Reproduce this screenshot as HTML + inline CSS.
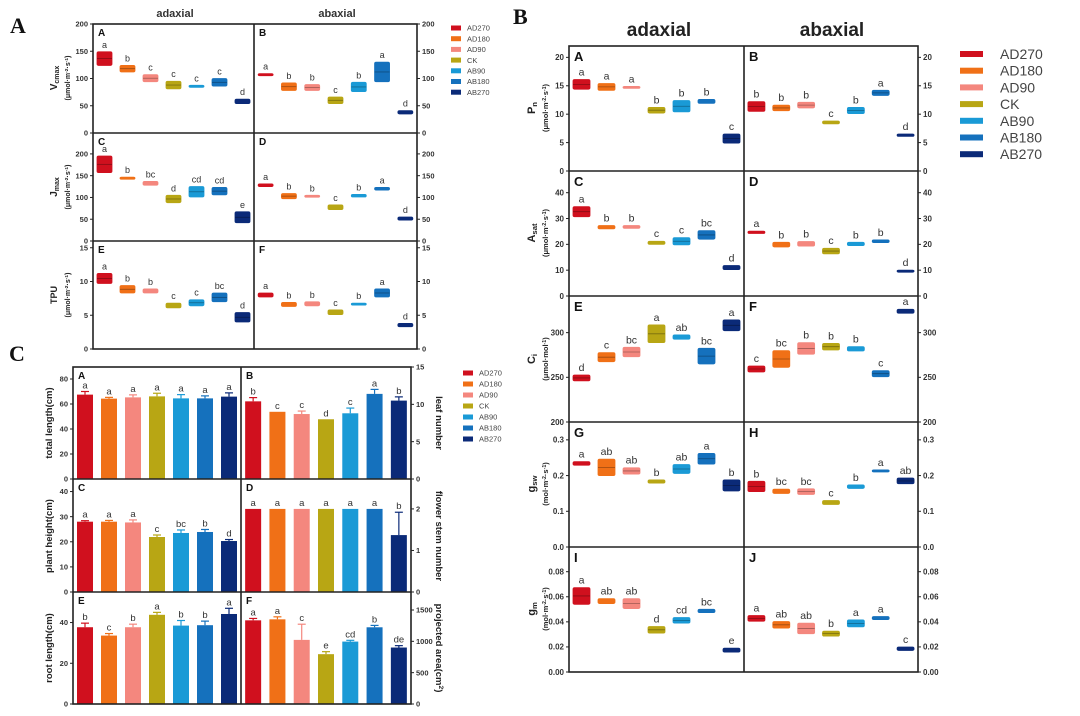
<!DOCTYPE html>
<html><head><meta charset="utf-8"><style>
html,body{margin:0;padding:0;background:#fff;}
svg{display:block;font-family:"Liberation Sans",Arial,sans-serif;}
</style></head><body>
<svg id="fig" width="1080" height="716" viewBox="0 0 1080 716" xmlns="http://www.w3.org/2000/svg"></svg>
<script>
const cats=['AD270','AD180','AD90','CK','AB90','AB180','AB270'];
const colors=['#d0101e','#f07017','#f4877e','#b8a614','#1a9ad6','#1571bd','#0b2a78'];
// Figure A
const vcmaxAdLo=[124,112,94,81,86,86,54], vcmaxAdHi=[149,124,107,95,87.5,100,62], vcmaxAdLet=['a','b','c','c','c','c','d'];
const vcmaxAbLo=[105,78,78,54,76,94,35], vcmaxAbHi=[109,92,89,66,93,130,41], vcmaxAbLet=['a','b','b','c','b','a','d'];
const jmaxAdLo=[157,144,128,88,101,106,42], jmaxAdHi=[195,146.5,137,105,125,123,67], jmaxAdLet=['a','b','bc','d','cd','cd','e'];
const jmaxAbLo=[125,97,101,72,101,117,48], jmaxAbHi=[131,109,105,83,107,123,55], jmaxAbLet=['a','b','b','c','b','a','d'];
const tpuAdLo=[9.7,8.3,8.3,6.1,6.4,7.0,4.0], tpuAdHi=[11.2,9.4,8.9,6.8,7.3,8.3,5.4], tpuAdLet=['a','b','b','c','c','bc','d'];
const tpuAbLo=[7.7,6.3,6.4,5.1,6.5,7.7,3.3], tpuAbHi=[8.3,6.9,7.0,5.8,6.8,8.9,3.8], tpuAbLet=['a','b','b','c','b','a','d'];
// Figure B
const pnAdLo=[14.4,14.2,14.6,10.2,10.4,11.9,4.9], pnAdHi=[16.1,15.4,14.9,11.2,12.4,12.6,6.5], pnAdLet=['a','a','a','b','b','b','c'];
const pnAbLo=[10.5,10.6,11.1,8.3,10.1,13.3,6.1], pnAbHi=[12.2,11.6,12.1,8.8,11.2,14.2,6.5], pnAbLet=['b','b','b','c','b','a','d'];
const asatAdLo=[30.7,26,26.2,20,19.8,22,10.2], asatAdHi=[34.6,27.3,27.3,21.2,22.6,25.3,11.8], asatAdLet=['a','b','b','c','c','bc','d'];
const asatAbLo=[24.2,19,19.3,16.3,19.5,20.7,9.4], asatAbHi=[25.1,20.8,21.1,18.5,20.8,21.7,10], asatAbLet=['a','b','b','c','b','b','d'];
const ciAdLo=[246,267.5,273,288.8,292.6,265,302.2], ciAdHi=[252.6,277.6,283.6,308.6,297.4,282.5,314.2], ciAdLet=['d','c','bc','a','ab','bc','a'];
const ciAbLo=[256,261.2,275.8,280.6,279.5,250.7,321.7], ciAbHi=[262.7,279.8,288.8,288,284.3,257.4,326.2], ciAbLet=['c','bc','b','b','b','c','a'];
const gswAdLo=[.229,.200,.204,.179,.206,.232,.157], gswAdHi=[.239,.246,.222,.188,.231,.262,.188], gswAdLet=['a','ab','ab','b','ab','a','b'];
const gswAbLo=[.155,.150,.147,.119,.164,.210,.177], gswAbHi=[.184,.162,.163,.130,.174,.216,.193], gswAbLet=['b','bc','bc','c','b','a','ab'];
const gmAdLo=[.054,.0546,.0506,.031,.039,.0474,.0159], gmAdHi=[.0673,.0585,.0585,.0363,.0434,.050,.019], gmAdLet=['a','ab','ab','d','cd','bc','e'];
const gmAbLo=[.0405,.035,.0305,.0286,.036,.0418,.0172], gmAbHi=[.045,.0403,.039,.0326,.0416,.0442,.0199], gmAbLet=['a','ab','ab','b','a','a','c'];
// Figure C
const totalLen=[67.5,64.3,65.3,66.1,64.5,64.5,65.9], totalLenErr=[2.5,1,2,2.5,3,2,3], totalLenLet=['a','a','a','a','a','a','a'];
const leafNum=[10.4,9.0,8.7,8.0,8.8,11.4,10.5], leafNumErr=[0.5,0,0.4,0,0.7,0.6,0.5], leafNumLet=['b','c','c','d','c','a','b'];
const plantH=[28,28,27.7,21.9,23.5,23.9,20.3], plantHErr=[0.4,0.5,1,0.8,1.2,1,0.6], plantHLet=['a','a','a','c','bc','b','d'];
const stemNum=[2,2,2,2,2,2,1.37], stemNumErr=[0,0,0,0,0,0,0.55], stemNumLet=['a','a','a','a','a','a','b'];
const rootLen=[37.7,33.6,37.7,43.8,38.5,38.7,44.2], rootLenErr=[2,1,1.5,1.2,2.5,2,2.8], rootLenLet=['b','c','b','a','b','b','a'];
const projArea=[1335,1351,1023,795,996,1224,901], projAreaErr=[30,40,250,40,20,30,30], projAreaLet=['a','a','c','e','cd','b','de'];

const svg=document.getElementById('fig');
const NS='http://www.w3.org/2000/svg';
function el(tag,attrs,parent,txt){const e=document.createElementNS(NS,tag);for(const k in attrs)e.setAttribute(k,attrs[k]);if(txt!==undefined)e.textContent=txt;(parent||svg).appendChild(e);return e;}
function fmt(v,d){return v.toFixed(d);}

function half(o){
  const g=el('g',{});
  
  
  const sy=v=>o.y1-(v-o.min)/(o.max-o.min)*(o.y1-o.y0);
  const band=(o.x1-o.x0)/7;
  const sx=i=>o.x0+band*(i+0.5);
  const ax=o.side==='left'?o.x0:o.x1;
  o.ticks.forEach(t=>{
    const y=sy(t);
    const tk=el('line',{x1:ax,x2:o.side==='left'?ax-3:ax+3,y1:y,y2:y,stroke:'#222','stroke-width':1},g);
    
    
    const tl=el('text',{x:o.side==='left'?ax-5:ax+5,y:y+o.tfs*0.35,'font-size':o.tfs,'font-weight':'bold',fill:'#333','text-anchor':o.side==='left'?'end':'start'},g,fmt(t,o.dec||0));
    
    
  });
  for(let i=0;i<7;i++){
    const cx=sx(i);
    if(o.type==='box'){
      const yt=sy(o.hi[i]),yb=sy(o.lo[i]);
      const h=Math.max(2,yb-yt);
      const r=el('rect',{x:cx-o.bw/2,y:yt,width:o.bw,height:h,fill:colors[i],stroke:colors[i],'stroke-width':0.8,rx:1.5},g);
      
      
      if(h>5){const m=el('line',{x1:cx-o.bw/2,x2:cx+o.bw/2,y1:(yt+yb)/2,y2:(yt+yb)/2,stroke:'rgba(0,0,0,0.35)','stroke-width':0.8},g);
        
        }
      const lt=el('text',{x:cx,y:yt-4,'font-size':o.lfs,fill:'#333','text-anchor':'middle'},g,o.let[i]);
      
      
    } else {
      const yt=sy(o.vals[i]),yb=sy(o.min);
      const r=el('rect',{x:cx-o.bw/2,y:yt,width:o.bw,height:yb-yt,fill:colors[i]},g);
      
      
      const ye=sy(o.vals[i]+o.err[i]);
      if(o.err[i]>0){
        const e1=el('line',{x1:cx,x2:cx,y1:yt,y2:ye,stroke:colors[i],'stroke-width':1.2},g);
        
        
        const e2=el('line',{x1:cx-4,x2:cx+4,y1:ye,y2:ye,stroke:colors[i],'stroke-width':1.2},g);
        
        
      }
      const lt=el('text',{x:cx,y:ye-3,'font-size':o.lfs,fill:'#333','text-anchor':'middle'},g,o.let[i]);
      
      
    }
  }
  const tg=el('text',{x:o.x0+5,y:o.y0+o.gfs+2,'font-size':o.gfs,'font-weight':'bold',fill:'#111'},g,o.tag);
  
  
}
function frame(x0,x1,xm,rows,name){
  const g=el('g',{fill:'none',stroke:'#222','stroke-width':1.6});
  
  
  el('rect',{x:x0,y:rows[0],width:x1-x0,height:rows[rows.length-1]-rows[0]},g);
  el('line',{x1:xm,x2:xm,y1:rows[0],y2:rows[rows.length-1]},g);
  for(let i=1;i<rows.length-1;i++)el('line',{x1:x0,x2:x1,y1:rows[i],y2:rows[i]},g);
}
// parts: array of [text, 'n'|'sub'|'sup']
function rline(x,y,parts,fs,name,rot){
  const t=el('text',{transform:`translate(${x},${y}) rotate(${rot||-90})`,'text-anchor':'middle','font-size':fs,'font-weight':'bold',fill:'#222'});
  
  
  parts.forEach(p=>{
    const a={};
    if(p[1]==='sub'){a['font-size']=fs*0.7;a['baseline-shift']='-25%';}
    if(p[1]==='sup'){a['font-size']=fs*0.7;a['baseline-shift']='40%';}
    el('tspan',a,t,p[0]);
  });
}
const unitUmol=[['(μmol·m','n'],['-2','sup'],['·s','n'],['-1','sup'],[')','n']];
const unitMol=[['(mol·m','n'],['-2','sup'],['·s','n'],['-1','sup'],[')','n']];
function txt(x,y,s,fs,attrs,name){const t=el('text',Object.assign({x:x,y:y,'font-size':fs,fill:'#111'},attrs||{}),svg,s);return t;}
function legend(x,y,step,sw,sh,fs,gap,name){
  const g=el('g',{});
  
  
  cats.forEach((c,i)=>{
    const r=el('rect',{x:x,y:y+i*step-sh/2,width:sw,height:sh,fill:colors[i]},g);
    
    
    const t=el('text',{x:x+sw+gap,y:y+i*step+fs*0.36,'font-size':fs,fill:'#444'},g,c);
    
    
  });
}

// ===== Figure A =====
txt(10,33,'A',22,{'font-family':'Liberation Serif','font-weight':'bold'},'figure-a-label');
txt(175,17,'adaxial',11,{'font-weight':'bold','text-anchor':'middle',fill:'#333'},'adaxial-header-a');
txt(337,17,'abaxial',11,{'font-weight':'bold','text-anchor':'middle',fill:'#333'},'abaxial-header-a');
const aX=[93,254,417], aR=[24,133,241,349];
const aRows=[
 {min:0,max:200,ticks:[0,50,100,150,200],L:[vcmaxAdLo,vcmaxAdHi,vcmaxAdLet],R:[vcmaxAbLo,vcmaxAbHi,vcmaxAbLet],tags:['A','B']},
 {min:0,max:248,ticks:[0,50,100,150,200],L:[jmaxAdLo,jmaxAdHi,jmaxAdLet],R:[jmaxAbLo,jmaxAbHi,jmaxAbLet],tags:['C','D']},
 {min:0,max:16,ticks:[0,5,10,15],L:[tpuAdLo,tpuAdHi,tpuAdLet],R:[tpuAbLo,tpuAbHi,tpuAbLet],tags:['E','F']}];
aRows.forEach((r,k)=>{
  half({name:'a-panel-'+r.tags[0],x0:aX[0],x1:aX[1],y0:aR[k],y1:aR[k+1],min:r.min,max:r.max,ticks:r.ticks,side:'left',type:'box',lo:r.L[0],hi:r.L[1],let:r.L[2],tag:r.tags[0],bw:15,tfs:7.5,lfs:9,gfs:10});
  half({name:'a-panel-'+r.tags[1],x0:aX[1],x1:aX[2],y0:aR[k],y1:aR[k+1],min:r.min,max:r.max,ticks:r.ticks,side:'right',type:'box',lo:r.R[0],hi:r.R[1],let:r.R[2],tag:r.tags[1],bw:15,tfs:7.5,lfs:9,gfs:10});
});
frame(aX[0],aX[2],aX[1],aR,'figure-a-frame');
rline(57,78,[['V','n'],['cmax','sub']],10,'vcmax-axis-title');
rline(70,78,unitUmol,7,'vcmax-axis-unit');
rline(57,187,[['J','n'],['max','sub']],10,'jmax-axis-title');
rline(70,187,unitUmol,7,'jmax-axis-unit');
rline(57,295,[['TPU','n']],9,'tpu-axis-title');
rline(70,295,unitUmol,7,'tpu-axis-unit');
legend(451,28,10.7,10,5,7.5,6,'legend-a');

// ===== Figure B =====
txt(513,24,'B',22,{'font-family':'Liberation Serif','font-weight':'bold'},'figure-b-label');
txt(659,36,'adaxial',19,{'font-weight':'bold','text-anchor':'middle',fill:'#222'},'adaxial-header-b');
txt(832,36,'abaxial',19,{'font-weight':'bold','text-anchor':'middle',fill:'#222'},'abaxial-header-b');
const bX=[569,744,918], bR=[46,171,296,422,547,672];
const bRows=[
 {min:0,max:22,ticks:[0,5,10,15,20],dec:0,L:[pnAdLo,pnAdHi,pnAdLet],R:[pnAbLo,pnAbHi,pnAbLet],tags:['A','B']},
 {min:0,max:48.4,ticks:[0,10,20,30,40],dec:0,L:[asatAdLo,asatAdHi,asatAdLet],R:[asatAbLo,asatAbHi,asatAbLet],tags:['C','D']},
 {min:200,max:341,ticks:[200,250,300],dec:0,L:[ciAdLo,ciAdHi,ciAdLet],R:[ciAbLo,ciAbHi,ciAbLet],tags:['E','F']},
 {min:0,max:0.35,ticks:[0,0.1,0.2,0.3],dec:1,L:[gswAdLo,gswAdHi,gswAdLet],R:[gswAbLo,gswAbHi,gswAbLet],tags:['G','H']},
 {min:0,max:0.0997,ticks:[0,0.02,0.04,0.06,0.08],dec:2,L:[gmAdLo,gmAdHi,gmAdLet],R:[gmAbLo,gmAbHi,gmAbLet],tags:['I','J']}];
bRows.forEach((r,k)=>{
  half({name:'b-panel-'+r.tags[0],x0:bX[0],x1:bX[1],y0:bR[k],y1:bR[k+1],min:r.min,max:r.max,ticks:r.ticks,dec:r.dec,side:'left',type:'box',lo:r.L[0],hi:r.L[1],let:r.L[2],tag:r.tags[0],bw:17,tfs:8,lfs:10.5,gfs:13});
  half({name:'b-panel-'+r.tags[1],x0:bX[1],x1:bX[2],y0:bR[k],y1:bR[k+1],min:r.min,max:r.max,ticks:r.ticks,dec:r.dec,side:'right',type:'box',lo:r.R[0],hi:r.R[1],let:r.R[2],tag:r.tags[1],bw:17,tfs:8,lfs:10.5,gfs:13});
});
frame(bX[0],bX[2],bX[1],bR,'figure-b-frame');
rline(535,108,[['P','n'],['n','sub']],11,'pn-axis-title');
rline(548,108,unitUmol,7.5,'pn-axis-unit');
rline(535,233,[['A','n'],['sat','sub']],11,'asat-axis-title');
rline(548,233,unitUmol,7.5,'asat-axis-unit');
rline(535,359,[['C','n'],['i','sub']],11,'ci-axis-title');
rline(548,359,[['(μmol·mol','n'],['-1','sup'],[')','n']],7.5,'ci-axis-unit');
rline(535,484,[['g','n'],['sw','sub']],11,'gsw-axis-title');
rline(548,484,unitMol,7.5,'gsw-axis-unit');
rline(535,609,[['g','n'],['m','sub']],11,'gm-axis-title');
rline(548,609,unitMol,7.5,'gm-axis-unit');
legend(960,54,16.7,23,6,14,17,'legend-b');

// ===== Figure C =====
txt(9,361,'C',22,{'font-family':'Liberation Serif','font-weight':'bold'},'figure-c-label');
const cX=[73,241,411], cR=[367,479,592,704];
const cRows=[
 {L:{min:0,max:89.6,ticks:[0,20,40,60,80],v:totalLen,e:totalLenErr,l:totalLenLet},R:{min:0,max:15,ticks:[0,5,10,15],v:leafNum,e:leafNumErr,l:leafNumLet},tags:['A','B']},
 {L:{min:0,max:45,ticks:[0,10,20,30,40],v:plantH,e:plantHErr,l:plantHLet},R:{min:0,max:2.72,ticks:[0,1,2],v:stemNum,e:stemNumErr,l:stemNumLet},tags:['C','D']},
 {L:{min:0,max:55,ticks:[0,20,40],v:rootLen,e:rootLenErr,l:rootLenLet},R:{min:0,max:1787,ticks:[0,500,1000,1500],v:projArea,e:projAreaErr,l:projAreaLet},tags:['E','F']}];
cRows.forEach((r,k)=>{
  half({name:'c-panel-'+r.tags[0],x0:cX[0],x1:cX[1],y0:cR[k],y1:cR[k+1],min:r.L.min,max:r.L.max,ticks:r.L.ticks,side:'left',type:'bar',vals:r.L.v,err:r.L.e,let:r.L.l,tag:r.tags[0],bw:16,tfs:7.5,lfs:9.5,gfs:10});
  half({name:'c-panel-'+r.tags[1],x0:cX[1],x1:cX[2],y0:cR[k],y1:cR[k+1],min:r.R.min,max:r.R.max,ticks:r.R.ticks,side:'right',type:'bar',vals:r.R.v,err:r.R.e,let:r.R.l,tag:r.tags[1],bw:16,tfs:7.5,lfs:9.5,gfs:10});
});
frame(cX[0],cX[2],cX[1],cR,'figure-c-frame');
rline(52,423,[['total length(cm)','n']],9.5,'total-length-axis-title');
rline(52,536,[['plant height(cm)','n']],9.5,'plant-height-axis-title');
rline(52,648,[['root length(cm)','n']],9.5,'root-length-axis-title');
rline(436,423,[['leaf number','n']],9.5,'leaf-number-axis-title',90);
rline(436,536,[['flower stem number','n']],9.5,'flower-stem-axis-title',90);
rline(436,648,[['projected area(cm','n'],['2','sup'],[')','n']],9.5,'projected-area-axis-title',90);
legend(463,373,11,10,5,7.5,6,'legend-c');
</script>
</body></html>
